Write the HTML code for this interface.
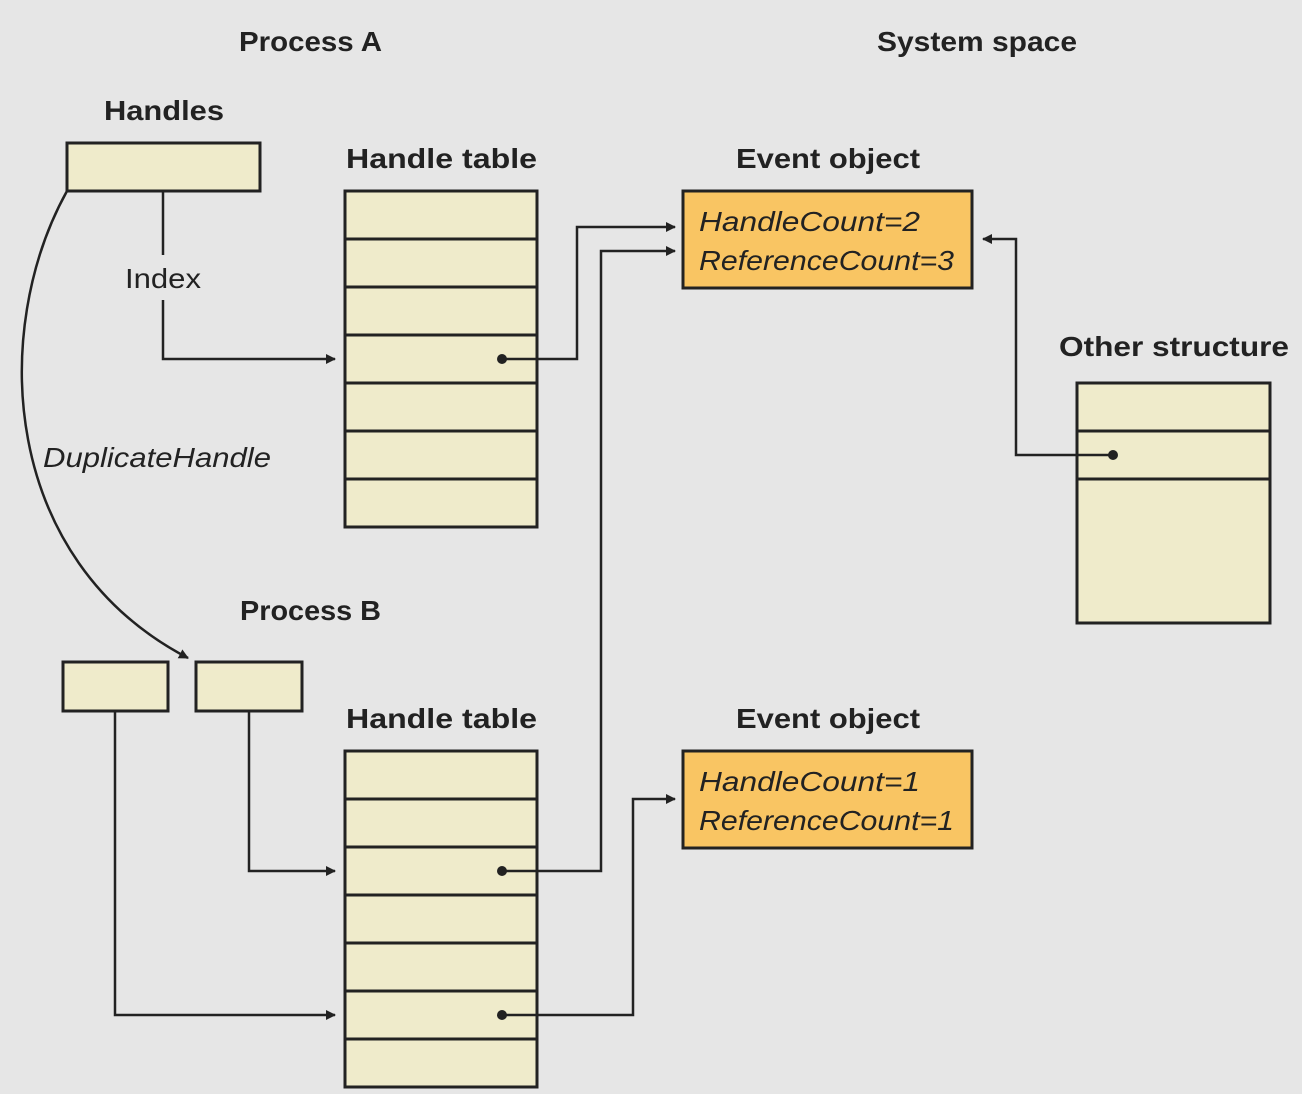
<!DOCTYPE html>
<html><head><meta charset="utf-8"><style>
html,body{margin:0;padding:0;background:#e6e6e6}
svg{display:block}
text{font-family:"Liberation Sans",sans-serif;fill:#222}
.t{font-weight:bold;font-size:28px}
.i{font-style:italic;font-size:28px}
</style></head><body>
<svg width="1302" height="1094" viewBox="0 0 1302 1094">
<defs><marker id="a" markerWidth="10" markerHeight="10" refX="9" refY="5" orient="auto" markerUnits="userSpaceOnUse"><path d="M0,0 L10,5 L0,10 z" fill="#222"/></marker></defs>
<rect width="1302" height="1094" fill="#e6e6e6"/>
<g stroke="#222" stroke-width="3" fill="#efebcb">
<rect x="67" y="143" width="193" height="48"/>
<rect x="345" y="191" width="192" height="336"/>
<path d="M345 239H537M345 287H537M345 335H537M345 383H537M345 431H537M345 479H537" fill="none"/>
<rect x="1077" y="383" width="193" height="240"/>
<path d="M1077 431H1270M1077 479H1270" fill="none"/>
<rect x="63" y="662" width="105" height="49"/>
<rect x="196" y="662" width="106" height="49"/>
<rect x="345" y="751" width="192" height="336"/>
<path d="M345 799H537M345 847H537M345 895H537M345 943H537M345 991H537M345 1039H537" fill="none"/>
<rect x="683" y="191" width="289" height="97" fill="#f9c563"/>
<rect x="683" y="751" width="289" height="97" fill="#f9c563"/>
</g>
<g stroke="#222" stroke-width="2.5" fill="none">
<path d="M163 191V255"/>
<path d="M163 300V359H335" marker-end="url(#a)"/>
<path d="M502 359H577V227H675" marker-end="url(#a)"/>
<path d="M502 871H601V251H675" marker-end="url(#a)"/>
<path d="M502 1015H633V799H675" marker-end="url(#a)"/>
<path d="M115 711V1015H335" marker-end="url(#a)"/>
<path d="M249 711V871H335" marker-end="url(#a)"/>
<path d="M1113 455H1016V239H983" marker-end="url(#a)"/>
<path d="M67 191C-10 330 0 560 188 658" marker-end="url(#a)"/>
</g>
<g fill="#222"><circle cx="502" cy="359" r="5"/><circle cx="502" cy="871" r="5"/><circle cx="502" cy="1015" r="5"/><circle cx="1113" cy="455" r="5"/></g>
<g lengthAdjust="spacingAndGlyphs">
<text class="t" x="239" y="51" textLength="143" lengthAdjust="spacingAndGlyphs">Process A</text>
<text class="t" x="877" y="51" textLength="200" lengthAdjust="spacingAndGlyphs">System space</text>
<text class="t" x="104" y="120" textLength="120" lengthAdjust="spacingAndGlyphs">Handles</text>
<text class="t" x="346" y="168" textLength="191" lengthAdjust="spacingAndGlyphs">Handle table</text>
<text class="t" x="736" y="168" textLength="184" lengthAdjust="spacingAndGlyphs">Event object</text>
<text class="t" x="1059" y="356" textLength="230" lengthAdjust="spacingAndGlyphs">Other structure</text>
<text class="t" x="240" y="620" textLength="141" lengthAdjust="spacingAndGlyphs">Process B</text>
<text class="t" x="346" y="728" textLength="191" lengthAdjust="spacingAndGlyphs">Handle table</text>
<text class="t" x="736" y="728" textLength="184" lengthAdjust="spacingAndGlyphs">Event object</text>
<text x="125" y="288" style="font-size:28px" textLength="76" lengthAdjust="spacingAndGlyphs">Index</text>
<text class="i" x="43" y="467" textLength="228" lengthAdjust="spacingAndGlyphs">DuplicateHandle</text>
<text class="i" x="699" y="231" textLength="221" lengthAdjust="spacingAndGlyphs">HandleCount=2</text>
<text class="i" x="699" y="270" textLength="255" lengthAdjust="spacingAndGlyphs">ReferenceCount=3</text>
<text class="i" x="699" y="791" textLength="221" lengthAdjust="spacingAndGlyphs">HandleCount=1</text>
<text class="i" x="699" y="830" textLength="255" lengthAdjust="spacingAndGlyphs">ReferenceCount=1</text>
</g>
</svg>
</body></html>
